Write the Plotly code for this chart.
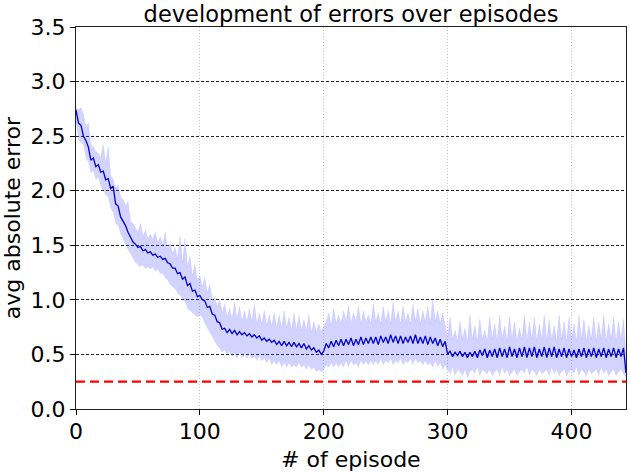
import plotly.graph_objects as go

# x positions (episodes, sampled every 2 episodes)
episodes = list(range(0, 445, 2))

# mean absolute error (dark line)
mean_error = [
    2.74, 2.62, 2.60, 2.50, 2.46, 2.40, 2.28, 2.30, 2.22, 2.24,
    2.17, 2.18, 2.10, 2.11, 2.02, 2.04, 1.88, 1.86, 1.76, 1.72,
    1.68, 1.62, 1.58, 1.53, 1.51, 1.48, 1.49, 1.45, 1.46, 1.43,
    1.44, 1.41, 1.42, 1.39, 1.40, 1.37, 1.38, 1.34, 1.33, 1.29,
    1.29, 1.24, 1.25, 1.19, 1.21, 1.13, 1.15, 1.08, 1.09, 1.03,
    1.04, 1.00, 0.99, 0.93, 0.94, 0.87, 0.86, 0.80, 0.79, 0.73,
    0.74, 0.70, 0.73, 0.69, 0.72, 0.68, 0.71, 0.68, 0.70, 0.67,
    0.69, 0.66, 0.68, 0.65, 0.67, 0.63, 0.65, 0.62, 0.64, 0.61,
    0.63, 0.59, 0.62, 0.58, 0.62, 0.58, 0.61, 0.57, 0.61, 0.57,
    0.60, 0.56, 0.60, 0.55, 0.58, 0.54, 0.56, 0.52, 0.54, 0.50,
    0.53, 0.60, 0.56, 0.62, 0.57, 0.63, 0.58, 0.64, 0.58, 0.64,
    0.59, 0.65, 0.58, 0.64, 0.59, 0.66, 0.59, 0.65, 0.60, 0.66,
    0.60, 0.66, 0.59, 0.67, 0.61, 0.66, 0.60, 0.68, 0.61, 0.67,
    0.60, 0.67, 0.60, 0.66, 0.61, 0.67, 0.60, 0.68, 0.60, 0.66,
    0.60, 0.67, 0.59, 0.66, 0.60, 0.65, 0.58, 0.64, 0.57, 0.62,
    0.50, 0.53, 0.48, 0.52, 0.49, 0.53, 0.48, 0.52, 0.47, 0.52,
    0.48, 0.53, 0.47, 0.54, 0.49, 0.55, 0.47, 0.54, 0.48, 0.55,
    0.47, 0.56, 0.48, 0.55, 0.47, 0.57, 0.48, 0.55, 0.47, 0.56,
    0.48, 0.57, 0.47, 0.56, 0.48, 0.57, 0.47, 0.55, 0.48, 0.57,
    0.47, 0.56, 0.48, 0.57, 0.47, 0.55, 0.48, 0.56, 0.47, 0.55,
    0.48, 0.54, 0.47, 0.55, 0.48, 0.56, 0.47, 0.55, 0.48, 0.56,
    0.47, 0.55, 0.48, 0.56, 0.47, 0.55, 0.48, 0.56, 0.47, 0.55,
    0.48, 0.56, 0.33,
]

# upper edge of the light band
upper_error = [
    2.76, 2.74, 2.76, 2.70, 2.58, 2.62, 2.42, 2.40, 2.36, 2.34,
    2.30, 2.42, 2.25, 2.40, 2.14, 2.10, 2.02, 2.05, 1.94, 1.92,
    1.86, 1.90, 1.72, 1.70, 1.66, 1.62, 1.70, 1.58, 1.64, 1.56,
    1.60, 1.55, 1.62, 1.52, 1.58, 1.50, 1.62, 1.46, 1.52, 1.42,
    1.48, 1.38, 1.58, 1.34, 1.56, 1.30, 1.40, 1.22, 1.32, 1.18,
    1.22, 1.12, 1.20, 1.06, 1.14, 1.00, 1.02, 0.94, 1.00, 0.88,
    0.96, 0.84, 0.92, 0.82, 0.98, 0.82, 0.94, 0.80, 0.90, 0.80,
    0.92, 0.80, 0.96, 0.78, 0.88, 0.78, 0.90, 0.76, 0.86, 0.76,
    0.88, 0.74, 0.86, 0.74, 0.90, 0.74, 0.84, 0.72, 0.88, 0.72,
    0.86, 0.72, 0.82, 0.72, 0.86, 0.70, 0.80, 0.70, 0.78, 0.70,
    0.76, 0.80, 0.88, 0.76, 0.92, 0.78, 0.86, 0.78, 0.90, 0.80,
    0.94, 0.78, 0.88, 0.80, 0.94, 0.78, 0.90, 0.80, 0.86, 0.78,
    0.96, 0.80, 0.88, 0.78, 0.94, 0.80, 0.90, 0.78, 0.98, 0.80,
    0.90, 0.78, 0.94, 0.80, 0.88, 0.78, 0.96, 0.80, 0.92, 0.78,
    0.90, 0.80, 0.94, 0.78, 1.00, 0.80, 0.90, 0.78, 0.88, 0.76,
    0.66, 0.84, 0.64, 0.72, 0.62, 0.80, 0.64, 0.74, 0.62, 0.86,
    0.64, 0.76, 0.62, 0.82, 0.64, 0.72, 0.62, 0.84, 0.64, 0.78,
    0.62, 0.86, 0.64, 0.76, 0.62, 0.84, 0.64, 0.80, 0.62, 0.74,
    0.64, 0.86, 0.62, 0.80, 0.64, 0.84, 0.62, 0.78, 0.64, 0.86,
    0.62, 0.82, 0.64, 0.76, 0.62, 0.86, 0.64, 0.80, 0.62, 0.84,
    0.64, 0.78, 0.62, 0.86, 0.64, 0.82, 0.62, 0.76, 0.64, 0.84,
    0.62, 0.80, 0.64, 0.86, 0.62, 0.78, 0.64, 0.84, 0.62, 0.80,
    0.64, 0.82, 0.50,
]

# lower edge of the light band
lower_error = [
    2.62, 2.46, 2.44, 2.42, 2.30, 2.26, 2.16, 2.18, 2.10, 2.12,
    2.04, 2.00, 1.96, 1.94, 1.84, 1.80, 1.70, 1.68, 1.60, 1.56,
    1.50, 1.46, 1.42, 1.38, 1.34, 1.32, 1.30, 1.32, 1.28, 1.30,
    1.28, 1.30, 1.26, 1.28, 1.24, 1.24, 1.20, 1.18, 1.14, 1.12,
    1.10, 1.06, 1.04, 1.00, 0.98, 0.92, 0.90, 0.88, 0.86, 0.84,
    0.86, 0.84, 0.78, 0.74, 0.70, 0.66, 0.62, 0.58, 0.56, 0.52,
    0.54, 0.50, 0.52, 0.48, 0.50, 0.46, 0.52, 0.46, 0.50, 0.46,
    0.50, 0.46, 0.48, 0.44, 0.48, 0.44, 0.46, 0.42, 0.46, 0.40,
    0.44, 0.40, 0.44, 0.38, 0.42, 0.38, 0.42, 0.38, 0.40, 0.38,
    0.42, 0.38, 0.40, 0.36, 0.40, 0.36, 0.38, 0.34, 0.36, 0.34,
    0.36, 0.40, 0.38, 0.42, 0.38, 0.42, 0.38, 0.42, 0.38, 0.44,
    0.38, 0.44, 0.40, 0.42, 0.38, 0.44, 0.40, 0.44, 0.40, 0.44,
    0.40, 0.44, 0.40, 0.46, 0.40, 0.44, 0.42, 0.46, 0.40, 0.44,
    0.42, 0.46, 0.40, 0.44, 0.42, 0.46, 0.40, 0.46, 0.42, 0.44,
    0.40, 0.44, 0.40, 0.42, 0.38, 0.44, 0.38, 0.42, 0.36, 0.40,
    0.36, 0.32, 0.38, 0.30, 0.36, 0.34, 0.30, 0.36, 0.28, 0.34,
    0.36, 0.32, 0.38, 0.30, 0.36, 0.34, 0.32, 0.36, 0.30, 0.34,
    0.36, 0.30, 0.38, 0.32, 0.36, 0.30, 0.34, 0.36, 0.30, 0.34,
    0.36, 0.32, 0.38, 0.30, 0.36, 0.34, 0.30, 0.36, 0.32, 0.34,
    0.36, 0.30, 0.38, 0.32, 0.36, 0.30, 0.34, 0.36, 0.30, 0.34,
    0.36, 0.32, 0.38, 0.30, 0.36, 0.34, 0.30, 0.36, 0.32, 0.34,
    0.36, 0.30, 0.38, 0.32, 0.36, 0.30, 0.34, 0.36, 0.30, 0.34,
    0.36, 0.32, 0.28,
]

target_error = 0.25
x_tick_values = [0, 100, 200, 300, 400]
y_tick_values = [0.0, 0.5, 1.0, 1.5, 2.0, 2.5, 3.0, 3.5]
y_tick_labels = ["0.0", "0.5", "1.0", "1.5", "2.0", "2.5", "3.0", "3.5"]

FONT = "DejaVu Sans"
FS = 22

fig = go.Figure()
fig.add_trace(go.Scatter(x=episodes, y=lower_error, mode="lines",
                         line=dict(width=0, color="rgba(0,0,255,0)"),
                         showlegend=False, hoverinfo="skip"))
fig.add_trace(go.Scatter(x=episodes, y=upper_error, mode="lines",
                         line=dict(width=0.5, color="rgba(170,170,255,0.5)"),
                         fill="tonexty", fillcolor="rgba(70,70,255,0.24)",
                         showlegend=False, hoverinfo="skip"))
fig.add_trace(go.Scatter(x=episodes, y=mean_error, mode="lines",
                         line=dict(width=1.3, color="#0000d0"),
                         showlegend=False))
fig.add_trace(go.Scatter(x=[episodes[0], episodes[-1]], y=[target_error, target_error],
                         mode="lines", line=dict(width=2.2, color="#ff0000", dash="9px,5px"),
                         showlegend=False))

fig.update_layout(
    width=630, height=472,
    margin=dict(l=76, r=4, t=27, b=63, autoexpand=False),
    paper_bgcolor="white", plot_bgcolor="white",
    font=dict(family=FONT, size=FS, color="black"),
    title=dict(text="development of errors over episodes", x=0.5, xref="paper",
               xanchor="center", y=1 - 14 / 472, yref="container", yanchor="middle",
               font=dict(family=FONT, size=22.5, color="black")),
    annotations=[
        dict(text="# of episode", xref="paper", yref="paper", x=0.5, y=-0.133,
             xanchor="center", yanchor="middle", showarrow=False,
             font=dict(family=FONT, size=FS, color="black")),
        dict(text="avg absolute error", xref="paper", yref="paper", x=-0.116, y=0.5,
             xanchor="center", yanchor="middle", showarrow=False, textangle=-90,
             font=dict(family=FONT, size=FS, color="black")),
    ],
)
fig.update_xaxes(
    range=[0, 444], tickvals=x_tick_values, ticks="outside", ticklen=5,
    tickcolor="black", tickwidth=1.2, automargin=False, ticklabelstandoff=-3,
    showline=True, linecolor="#222222", linewidth=1.3, mirror=True,
    showgrid=True, gridcolor="#c4c4c4", gridwidth=1, griddash="1px,2px",
    zeroline=False, tickfont=dict(family=FONT, size=FS),
)
fig.update_yaxes(
    range=[0, 3.5], tickvals=y_tick_values, ticktext=y_tick_labels,
    ticks="outside", ticklen=5, tickcolor="black", tickwidth=1.2, automargin=False,
    showline=True, linecolor="#222222", linewidth=1.3, mirror=True,
    showgrid=True, gridcolor="#222222", gridwidth=1, griddash="3px,2px",
    zeroline=False, tickfont=dict(family=FONT, size=FS),
)

fig.write_html("out.html", config={"displayModeBar": False},
               post_script="document.body.style.margin='0px';")
